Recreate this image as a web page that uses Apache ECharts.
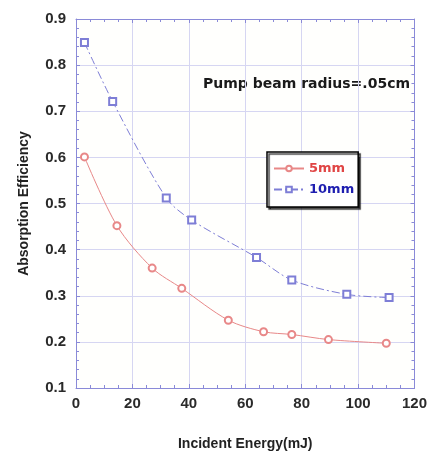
<!DOCTYPE html>
<html>
<head>
<meta charset="utf-8">
<script src="https://cdn.jsdelivr.net/npm/echarts@6/dist/echarts.min.js"></script>
<style>html,body{margin:0;padding:0;background:#fff;}#c{width:430px;height:456px;}</style>
</head>
<body>
<div id="c"></div>
<script>
const energy5 = [3, 14.5, 27, 37.5, 54, 66.5, 76.5, 89.5, 110];
const eff5 = [0.601, 0.452, 0.36, 0.316, 0.247, 0.222, 0.216, 0.205, 0.197];
const energy10 = [3, 13, 32, 41, 64, 76.5, 96, 111];
const eff10 = [0.849, 0.721, 0.512, 0.464, 0.383, 0.334, 0.303, 0.296];
const seriesNames = ['5mm', '10mm'];
const xTitle = 'Incident Energy(mJ)';
const yTitle = 'Absorption Efficiency';
const note = 'Pump beam radius=.05cm';

const pair = (xs, ys) => xs.map((x, i) => [x, ys[i]]);
const font = '"Liberation Sans", Arial, sans-serif';
const wideFont = '"DejaVu Sans", Verdana, sans-serif';
const axisCol = '#8a8ad8';
const gridCol = '#d6d6f2';

const chart = echarts.init(document.getElementById('c'), null, {renderer: 'canvas'});
const baseX = {
  type: 'value', min: 0, max: 120, interval: 20,
  axisLine: {show: true, onZero: false, lineStyle: {color: axisCol, width: 1}},
  axisTick: {show: true, inside: true, length: 4, lineStyle: {color: axisCol}},
  minorTick: {show: true, splitNumber: 4, length: 3, lineStyle: {color: axisCol}},
  splitLine: {show: false}
};
const baseY = {
  type: 'value', min: 0.1, max: 0.9, interval: 0.1,
  axisLine: {show: true, onZero: false, lineStyle: {color: axisCol, width: 1}},
  axisTick: {show: true, inside: true, length: 4, lineStyle: {color: axisCol}},
  minorTick: {show: true, splitNumber: 5, length: 3, lineStyle: {color: axisCol}},
  splitLine: {show: false}
};
chart.setOption({
  animation: false,
  backgroundColor: '#fff',
  grid: {left: 76, right: 14, top: 19, bottom: 67, show: true, backgroundColor: '#fffffd', borderWidth: 0},
  xAxis: [
    Object.assign({}, baseX, {
      position: 'bottom',
      name: xTitle, nameLocation: 'middle', nameGap: 49,
      nameTextStyle: {fontFamily: font, fontWeight: 'bold', fontSize: 14, color: '#222'},
      axisLabel: {fontFamily: font, fontWeight: 'bold', fontSize: 15, color: '#2a2a2a', margin: 8},
      splitLine: {show: true, lineStyle: {color: gridCol, width: 1}}
    }),
    Object.assign({}, baseX, {position: 'top', axisLabel: {show: false}})
  ],
  yAxis: [
    Object.assign({}, baseY, {
      position: 'left',
      name: yTitle, nameLocation: 'middle', nameGap: 45,
      nameTextStyle: {fontFamily: font, fontWeight: 'bold', fontSize: 14, color: '#222'},
      axisLabel: {fontFamily: font, fontWeight: 'bold', fontSize: 15, color: '#2a2a2a', margin: 10,
        formatter: v => v.toFixed(1)},
      splitLine: {show: true, lineStyle: {color: gridCol, width: 1}}
    }),
    Object.assign({}, baseY, {position: 'right', axisLabel: {show: false}})
  ],
  legend: {
    show: true,
    left: 267, top: 152, width: 94,
    orient: 'vertical',
    padding: [10, 4, 11, 6],
    itemGap: 8,
    itemWidth: 30, itemHeight: 7,
    backgroundColor: '#fff',
    borderColor: '#000', borderWidth: 1.5, borderRadius: 0,
    shadowColor: 'rgba(0,0,0,0.75)', shadowOffsetX: 2, shadowOffsetY: 2, shadowBlur: 1,
    data: [
      {name: seriesNames[0], textStyle: {color: '#e04545'}},
      {name: seriesNames[1], textStyle: {color: '#1e1eb0'}}
    ],
    textStyle: {fontFamily: wideFont, fontWeight: 'bold', fontSize: 13}
  },
  graphic: [{
    type: 'text', left: 203, top: 77,
    style: {text: note, fontFamily: wideFont, fontWeight: 'bold', fontSize: 14, fill: '#1a1a1a'}
  }],
  series: [
    {
      name: seriesNames[0], type: 'line', data: pair(energy5, eff5),
      smooth: 0.3, symbol: 'emptyCircle', symbolSize: 7,
      itemStyle: {color: '#e88888', borderWidth: 1},
      lineStyle: {color: '#e88888', width: 1}
    },
    {
      name: seriesNames[1], type: 'line', data: pair(energy10, eff10),
      smooth: 0.3, symbol: 'emptyRect', symbolSize: 7,
      itemStyle: {color: '#7e7ed6', borderWidth: 1},
      lineStyle: {color: '#7e7ed6', width: 1, type: [8, 3, 2, 3]}
    }
  ]
});
</script>
</body>
</html>
